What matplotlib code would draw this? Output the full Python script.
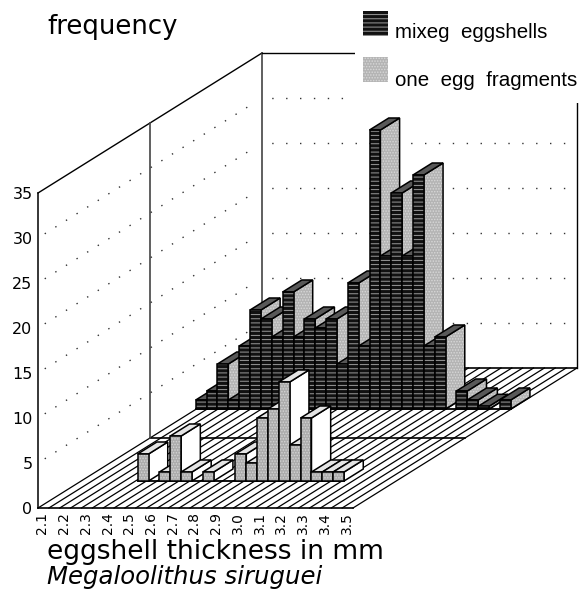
from matplotlib import pyplot as plt
from matplotlib.patches import Polygon, Rectangle

plt.rcParams["hatch.linewidth"] = 0.7

# thickness classes 2.10 .. 3.50 in 0.05 steps, labelled every second one
thickness_labels = ["2.1", "2.2", "2.3", "2.4", "2.5", "2.6", "2.7", "2.8",
                    "2.9", "3.0", "3.1", "3.2", "3.3", "3.4", "3.5"]
freq_ticks = [0, 5, 10, 15, 20, 25, 30, 35]

mixed_eggshells = [1, 2, 5, 1, 7, 11, 10, 8, 13, 8, 10, 9, 10, 5, 14, 7, 31,
                   17, 24, 17, 26, 7, 8, 0, 2, 1, 0.3, 0, 1]
one_egg = [0, 0, 0, 0, 0, 3, 0, 1, 5, 1, 0, 1, 0, 0, 3, 2, 7, 8, 11, 4, 7, 1,
           1, 1, 0, 0, 0, 0, 0]

n = len(mixed_eggshells)
fig = plt.figure(figsize=(5.83, 5.91), dpi=100)
ax = fig.add_axes([38 / 583, 1 - 508 / 591, 315 / 583, 315 / 591])
ax.set_xlim(0, n)
ax.set_ylim(0, 35)

# oblique depth: how far the back of the floor is shifted, in axis units
depth_x = 224 / (315 / n)
depth_y = 140 / 9


def proj(pos, depth, value):
    return pos + depth * depth_x, value + depth * depth_y


def face(points, color, hatch=None, hatch_color="white"):
    if hatch:
        ax.add_patch(Polygon(points, closed=True, facecolor=color, edgecolor=hatch_color,
                             hatch=hatch, linewidth=0, clip_on=False))
    else:
        ax.add_patch(Polygon(points, closed=True, facecolor=color, edgecolor="none", clip_on=False))
    ax.add_patch(Polygon(points, closed=True, fill=False, edgecolor="black", linewidth=1.1, clip_on=False))


def line(p, q, **kw):
    kw.setdefault("color", "black")
    kw.setdefault("linewidth", 1.0)
    kw.setdefault("zorder", 0.5)
    ax.plot([p[0], q[0]], [p[1], q[1]], clip_on=False, **kw)


def draw_row(values, d0, d1, shift, front, side, top):
    used = [i for i, v in enumerate(values) if v > 0]
    line(proj(used[0] + shift, d0, 0), proj(used[-1] + 1 + shift, d0, 0), linewidth=1.3)
    for i, v in enumerate(values):
        if v == 0:
            continue
        a = i + shift
        b = a + 1
        face([proj(b, d0, 0), proj(b, d1, 0), proj(b, d1, v), proj(b, d0, v)], *side)
        face([proj(a, d0, v), proj(b, d0, v), proj(b, d1, v), proj(a, d1, v)], *top)
        face([proj(a, d0, 0), proj(b, d0, 0), proj(b, d0, v), proj(a, d0, v)], *front)


# floor hatching and outline
for k in range(n + 1):
    line(proj(k, 0, 0), proj(k, 1, 0), linewidth=0.9)
line(proj(0, 0, 0), proj(n, 0, 0), linewidth=1.2)
line(proj(0, 1, 0), proj(n, 1, 0), linewidth=1.2)
line(proj(0, 0.5, 0), proj(n, 0.5, 0), linewidth=1.2)

# walls
line(proj(0, 0, 35), proj(0, 1, 35))
line(proj(0, 1, 0), proj(0, 1, 35), color="#444444", linewidth=1.2)
line(proj(0, 0.5, 0), proj(0, 0.5, 35), color="#444444", linewidth=1.2)
line(proj(0, 1, 35), proj(n, 1, 35))
line(proj(n, 1, 0), proj(n, 1, 35))
for f in freq_ticks[1:-1]:
    line(proj(0, 0.03, f), proj(0, 0.97, f), linestyle=(0, (1, 8)), linewidth=1.0, color="#333333")
    line(proj(0, 1, f), proj(n, 1, f), linestyle=(3, (1, 9)), linewidth=1.0, color="#333333")

dark_front = ("#111111", "----", "#9a9a9a")
dark_side = ("#b4b4b4", "......", "#d8d8d8")
dark_top = ("#585858",)
light_front = ("#acacac", "......", "#d4d4d4")
light_side = ("white",)
light_top = ("#e4e4e4",)

draw_row(mixed_eggshells, 99 / 140, 111 / 140, -0.06, dark_front, dark_side, dark_top)
draw_row(one_egg, 27 / 140, 39 / 140, 0.2, light_front, light_side, light_top)

for s in ["top", "right", "bottom"]:
    ax.spines[s].set_visible(False)
ax.patch.set_visible(False)
ax.spines["left"].set_linewidth(1.1)
ax.set_yticks(freq_ticks)
ax.set_yticklabels(freq_ticks, fontsize=11.5, fontfamily="DejaVu Sans")
ax.tick_params(axis="y", length=0, pad=4)
ax.set_xticks([0.4 + 2 * k for k in range(len(thickness_labels))])
ax.set_xticklabels(thickness_labels, rotation=90, fontsize=10, fontfamily="DejaVu Sans")
ax.tick_params(axis="x", length=0, pad=3)

# legend area is blanked, the back wall stops behind it
fig.add_artist(Rectangle((355 / 583, 1 - 103 / 591), 228 / 583, 103 / 591, facecolor="white",
                         edgecolor="none", transform=fig.transFigure, zorder=5))
for y, col, hatch, hc in [(36, "#111111", "----", "#9a9a9a"), (82, "#b4b4b4", "......", "#d8d8d8")]:
    fig.add_artist(Rectangle((363 / 583, 1 - y / 591), 25 / 583, 25 / 591, facecolor=col, edgecolor=hc,
                             hatch=hatch, linewidth=0, transform=fig.transFigure, zorder=6))
fig.text(395 / 583, 1 - 33 / 591, "mixeg  eggshells", fontsize=14.8, family="Liberation Sans", va="center", zorder=7)
fig.text(395 / 583, 1 - 80 / 591, "one  egg  fragments", fontsize=14.8, family="Liberation Sans", va="center", zorder=7)

fig.text(47 / 583, 1 - 27 / 591, "frequency", fontsize=18.7, family="DejaVu Sans", va="center")
fig.text(47 / 583, 1 - 552 / 591, "eggshell thickness in mm", fontsize=19, family="DejaVu Sans", va="center")
fig.text(47 / 583, 1 - 577 / 591, "Megaloolithus siruguei", fontsize=17.6, family="DejaVu Sans",
         style="italic", va="center")

plt.savefig("out.png", dpi=100)
